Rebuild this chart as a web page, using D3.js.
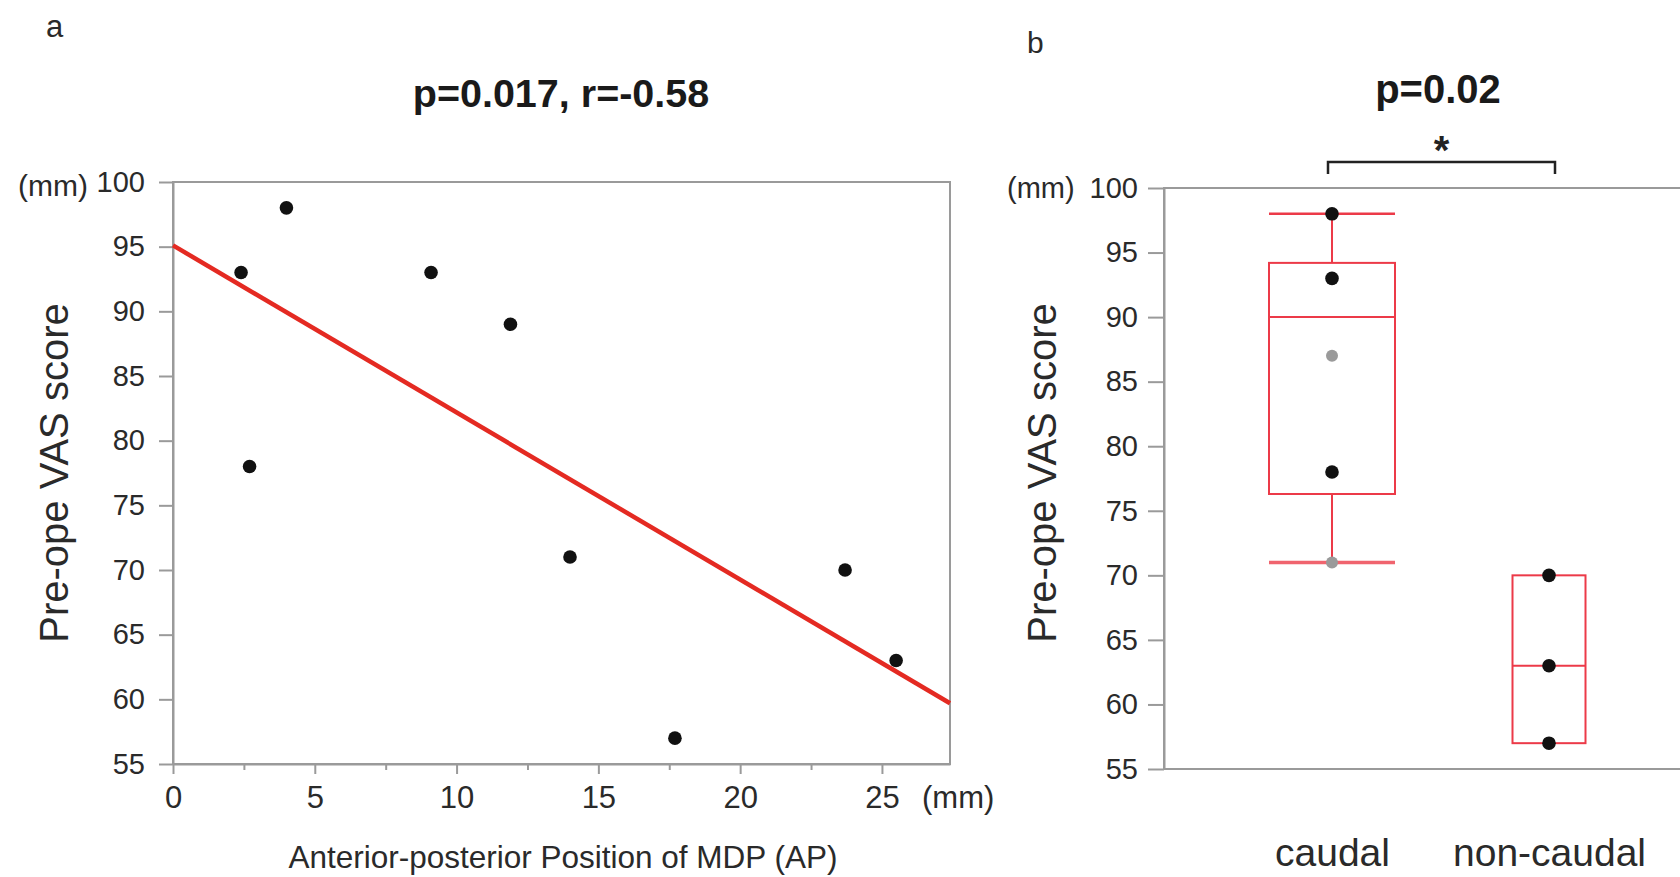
<!DOCTYPE html>
<html>
<head>
<meta charset="utf-8">
<script src="https://cdn.jsdelivr.net/npm/d3@7"></script>
<style>
  html, body { margin: 0; padding: 0; background: #ffffff; }
  svg { display: block; font-family: "Liberation Sans", Arial, sans-serif; }
</style>
</head>
<body>
<script>
// ---------- data ----------
const apPosition = [2.4, 2.7, 4.0, 9.1, 11.9, 14.0, 17.7, 23.7, 25.5];
const vasScoreA  = [93, 78, 98, 93, 89, 71, 57, 70, 63];
const fitLineX   = [0, 27.4];
const fitLineY   = [95.1, 59.7];
const xTicksA    = [0, 5, 10, 15, 20, 25];
const xMinorA    = [2.5, 7.5, 12.5, 17.5, 22.5];
const yTicks     = [55, 60, 65, 70, 75, 80, 85, 90, 95, 100];

const groups     = ["caudal", "non-caudal"];
const boxMin     = [71, 57];
const boxQ1      = [76.3, 57];
const boxMedian  = [90, 63];
const boxQ3      = [94.2, 70];
const boxMax     = [98, 70];
const pointGroup = ["caudal", "caudal", "caudal", "non-caudal", "non-caudal", "non-caudal"];
const pointValue = [98, 93, 78, 70, 63, 57];
const grayPointGroup = ["caudal", "caudal"];
const grayPointValue = [87, 71];

const titleA = "p=0.017, r=-0.58";
const titleB = "p=0.02";
const yTitle = "Pre-ope VAS score";
const xTitleA = "Anterior-posterior Position of MDP (AP)";

// ---------- setup ----------
const W = 1680, H = 877;
const svg = d3.select("body").append("svg").attr("width", W).attr("height", H);
svg.append("rect").attr("width", W).attr("height", H).attr("fill", "#fff");

const AXIS = "#9a9a9a";
const TEXT = "#2a2a2a";
const RED_LINE = "#e42a22";
const RED_BOX = "#ec3a48";

function styleAxis(g) {
  g.selectAll(".domain").attr("stroke", AXIS).attr("stroke-width", 2);
  g.selectAll(".tick line").attr("stroke", AXIS).attr("stroke-width", 2);
  g.selectAll(".tick text").attr("fill", TEXT)
    .attr("font-family", "'Liberation Sans', Arial, sans-serif");
}

// ================= Panel a =================
const ax = { left: 173, right: 950, top: 182, bottom: 764 };
const xA = d3.scaleLinear().domain([0, 27.4]).range([ax.left, ax.right]);
const yA = d3.scaleLinear().domain([55, 100]).range([ax.bottom, ax.top]);

svg.append("text").attr("x", 46).attr("y", 37).attr("font-size", 31)
  .attr("fill", TEXT).text("a");

svg.append("text").attr("x", 561).attr("y", 107).attr("text-anchor", "middle")
  .attr("font-size", 39.5).attr("font-weight", "bold").attr("fill", "#1a1a1a").text(titleA);

// frame
svg.append("rect").attr("x", ax.left).attr("y", ax.top)
  .attr("width", ax.right - ax.left).attr("height", ax.bottom - ax.top)
  .attr("fill", "none").attr("stroke", AXIS).attr("stroke-width", 2);

// y axis
const gyA = svg.append("g").attr("transform", `translate(${ax.left},0)`)
  .call(d3.axisLeft(yA).tickValues(yTicks).tickSize(14).tickSizeOuter(0).tickPadding(14))
  .attr("font-size", 29);
styleAxis(gyA);

// x axis major
const gxA = svg.append("g").attr("transform", `translate(0,${ax.bottom})`)
  .call(d3.axisBottom(xA).tickValues(xTicksA).tickSize(10).tickSizeOuter(0).tickPadding(12))
  .attr("font-size", 31);
styleAxis(gxA);
// x axis minor
const gxAm = svg.append("g").attr("transform", `translate(0,${ax.bottom})`)
  .call(d3.axisBottom(xA).tickValues(xMinorA).tickSize(6).tickSizeOuter(0).tickFormat(""));
styleAxis(gxAm);
gxAm.select(".domain").remove();

// units
svg.append("text").attr("x", 18).attr("y", 196).attr("font-size", 30).attr("fill", TEXT).text("(mm)");
svg.append("text").attr("x", 922).attr("y", 808).attr("font-size", 31).attr("fill", TEXT).text("(mm)");

// axis titles
svg.append("text").attr("transform", `translate(68,473) rotate(-90)`)
  .attr("text-anchor", "middle").attr("font-size", 40).attr("fill", TEXT).text(yTitle);
svg.append("text").attr("x", 563).attr("y", 868).attr("text-anchor", "middle")
  .attr("font-size", 31.5).attr("fill", TEXT).text(xTitleA);

// regression line
svg.append("line")
  .attr("x1", xA(fitLineX[0])).attr("y1", yA(fitLineY[0]))
  .attr("x2", xA(fitLineX[1])).attr("y2", yA(fitLineY[1]))
  .attr("stroke", RED_LINE).attr("stroke-width", 4.5);

// points
svg.append("g").selectAll("circle").data(apPosition).join("circle")
  .attr("cx", d => xA(d)).attr("cy", (d, i) => yA(vasScoreA[i]))
  .attr("r", 6.8).attr("fill", "#111");

// ================= Panel b =================
const bx = { left: 1164, right: 1700, top: 188, bottom: 769 };
const yB = d3.scaleLinear().domain([55, 100]).range([bx.bottom, bx.top]);
const xB = d3.scalePoint().domain(groups).range([bx.left + 168, bx.left + 385]);
const boxHalf = { "caudal": 63, "non-caudal": 36.5 };

svg.append("text").attr("x", 1027).attr("y", 53).attr("font-size", 30)
  .attr("fill", TEXT).text("b");

svg.append("text").attr("x", 1438).attr("y", 103).attr("text-anchor", "middle")
  .attr("font-size", 40).attr("font-weight", "bold").attr("fill", "#1a1a1a").text(titleB);

// significance bracket
const bl = xB("caudal") - 4, br = xB("non-caudal") + 6;
svg.append("path")
  .attr("d", `M${bl},174 V162 H${br} V174`)
  .attr("fill", "none").attr("stroke", "#222").attr("stroke-width", 2.5);
svg.append("text").attr("x", (bl + br) / 2).attr("y", 164).attr("text-anchor", "middle")
  .attr("font-size", 40).attr("font-weight", "bold").attr("fill", "#222").text("*");

// frame
svg.append("rect").attr("x", bx.left).attr("y", bx.top)
  .attr("width", bx.right - bx.left).attr("height", bx.bottom - bx.top)
  .attr("fill", "none").attr("stroke", AXIS).attr("stroke-width", 2);

const gyB = svg.append("g").attr("transform", `translate(${bx.left},0)`)
  .call(d3.axisLeft(yB).tickValues(yTicks).tickSize(16).tickSizeOuter(0).tickPadding(10))
  .attr("font-size", 29);
styleAxis(gyB);

const gxB = svg.append("g").attr("transform", `translate(0,${bx.bottom})`)
  .call(d3.axisBottom(xB).tickSize(0).tickPadding(69))
  .attr("font-size", 39);
styleAxis(gxB);
gxB.select(".domain").remove();

svg.append("text").attr("x", 1007).attr("y", 198).attr("font-size", 29).attr("fill", TEXT).text("(mm)");
svg.append("text").attr("transform", `translate(1056,473) rotate(-90)`)
  .attr("text-anchor", "middle").attr("font-size", 40).attr("fill", TEXT).text(yTitle);

// boxes
const boxes = svg.append("g");
groups.forEach((g, i) => {
  const cx = xB(g), hw = boxHalf[g];
  const grp = boxes.append("g");
  // whiskers
  if (boxMax[i] > boxQ3[i]) {
    grp.append("line").attr("x1", cx).attr("x2", cx)
      .attr("y1", yB(boxQ3[i])).attr("y2", yB(boxMax[i]))
      .attr("stroke", RED_BOX).attr("stroke-width", 2);
    grp.append("line").attr("x1", cx - hw).attr("x2", cx + hw)
      .attr("y1", yB(boxMax[i])).attr("y2", yB(boxMax[i]))
      .attr("stroke", RED_BOX).attr("stroke-width", 2.5);
  }
  if (boxMin[i] < boxQ1[i]) {
    grp.append("line").attr("x1", cx).attr("x2", cx)
      .attr("y1", yB(boxQ1[i])).attr("y2", yB(boxMin[i]))
      .attr("stroke", RED_BOX).attr("stroke-width", 2);
    grp.append("line").attr("x1", cx - hw).attr("x2", cx + hw)
      .attr("y1", yB(boxMin[i])).attr("y2", yB(boxMin[i]))
      .attr("stroke", "#f0646e").attr("stroke-width", 3.5);
  }
  grp.append("rect").attr("x", cx - hw).attr("width", hw * 2)
    .attr("y", yB(boxQ3[i])).attr("height", yB(boxQ1[i]) - yB(boxQ3[i]))
    .attr("fill", "none").attr("stroke", RED_BOX).attr("stroke-width", 2);
  grp.append("line").attr("x1", cx - hw).attr("x2", cx + hw)
    .attr("y1", yB(boxMedian[i])).attr("y2", yB(boxMedian[i]))
    .attr("stroke", RED_BOX).attr("stroke-width", 2);
});

// points
svg.append("g").selectAll("circle").data(grayPointValue).join("circle")
  .attr("cx", (d, i) => xB(grayPointGroup[i])).attr("cy", d => yB(d))
  .attr("r", 6).attr("fill", "#9a9a9a");
svg.append("g").selectAll("circle").data(pointValue).join("circle")
  .attr("cx", (d, i) => xB(pointGroup[i])).attr("cy", d => yB(d))
  .attr("r", 6.8).attr("fill", "#111");
</script>
</body>
</html>
